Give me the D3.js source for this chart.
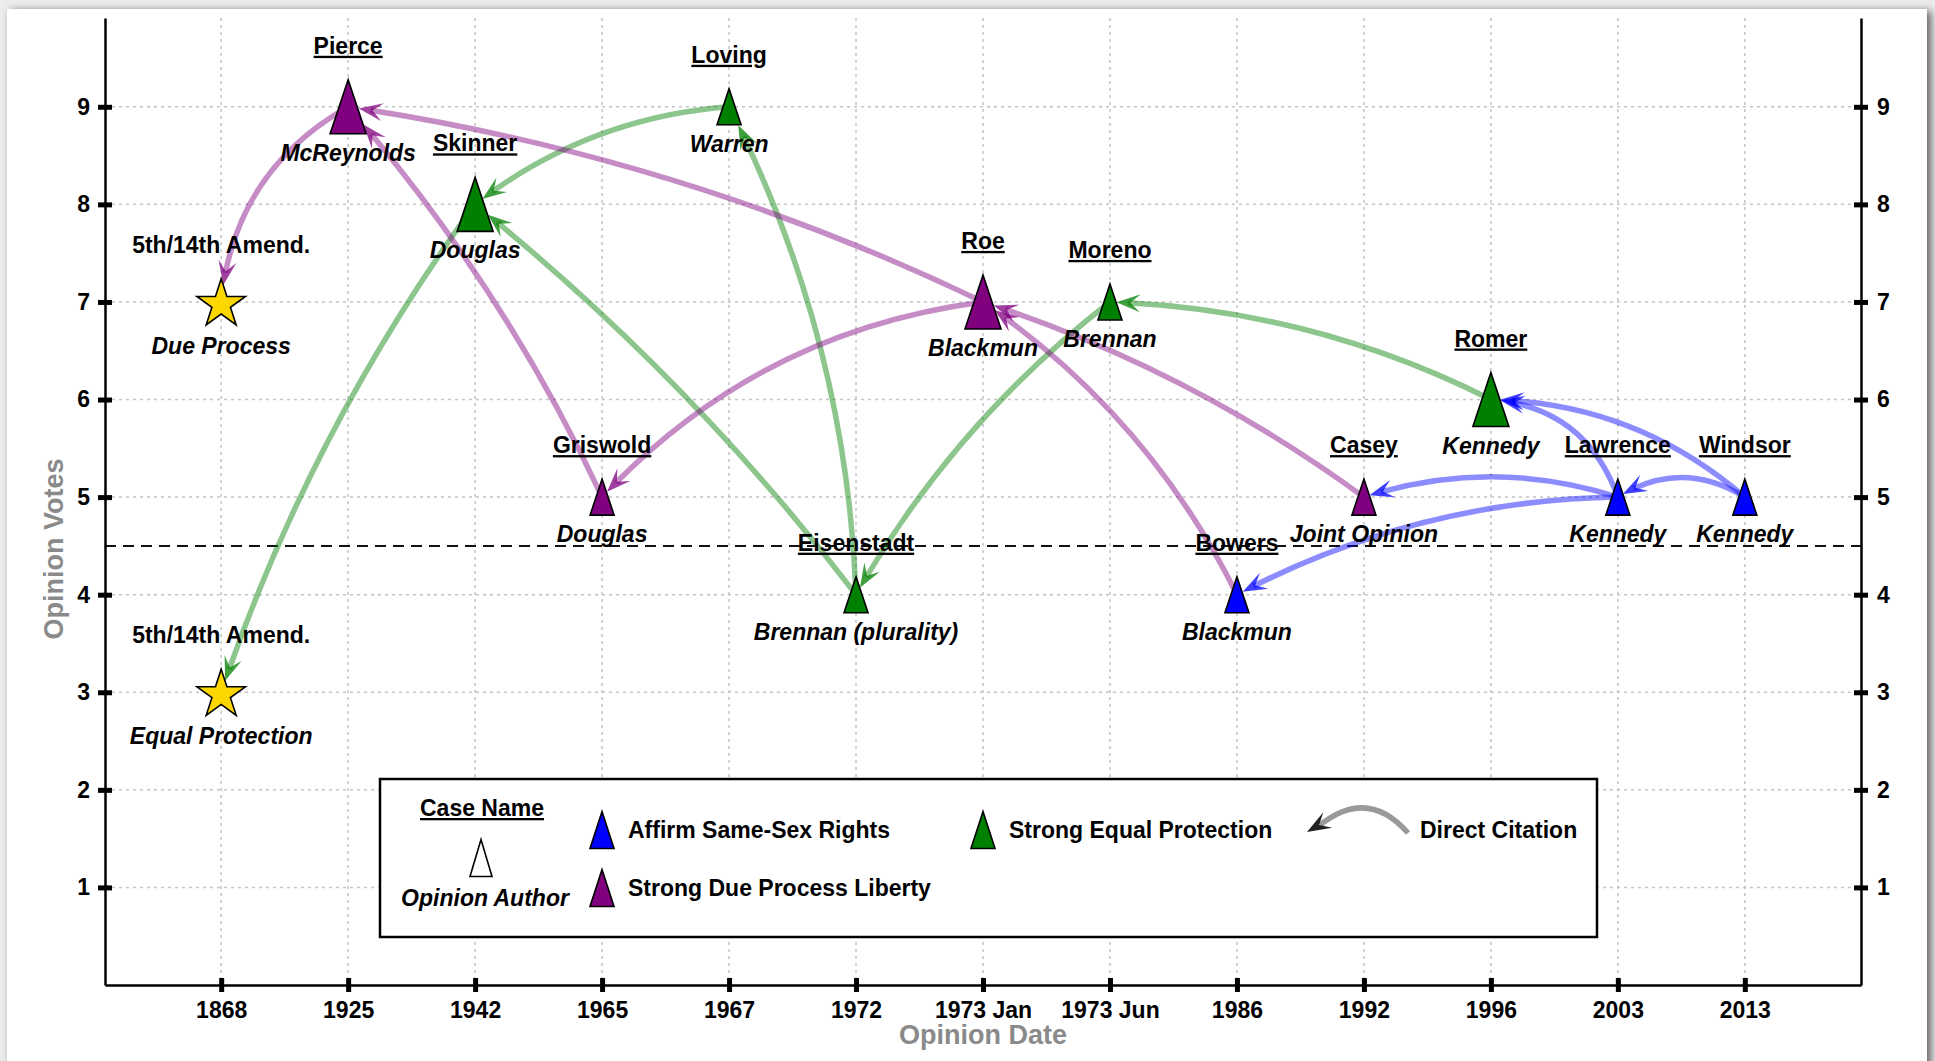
<!DOCTYPE html>
<html>
<head>
<meta charset="utf-8">
<script src="https://cdn.jsdelivr.net/npm/d3@7"></script>
<style>
body{margin:0;background:#ececec;overflow:hidden;}
text{font-family:"Liberation Sans",Arial,Helvetica,sans-serif;font-weight:bold;}
</style>
</head>
<body>
<script>
(function(){

//x axis categories (opinion dates) and y axis ticks
var dateTicks = ["1868", "1925", "1942", "1965", "1967", "1972", "1973 Jan", "1973 Jun", "1986", "1992", "1996", "2003", "2013"];
var voteTicks = [1, 2, 3, 4, 5, 6, 7, 8, 9];

//cases (nodes)
var caseKeys  = ["Due Process", "Equal Protection", "Pierce", "Skinner", "Griswold", "Loving", "Eisenstadt", "Roe", "Moreno", "Bowers", "Casey", "Romer", "Lawrence", "Windsor"];
var caseNames = ["5th/14th Amend.", "5th/14th Amend.", "Pierce", "Skinner", "Griswold", "Loving", "Eisenstadt", "Roe", "Moreno", "Bowers", "Casey", "Romer", "Lawrence", "Windsor"];
var caseAuthors = ["Due Process", "Equal Protection", "McReynolds", "Douglas", "Douglas", "Warren", "Brennan (plurality)", "Blackmun", "Brennan", "Blackmun", "Joint Opinion", "Kennedy", "Kennedy", "Kennedy"];
var caseDates = ["1868", "1868", "1925", "1942", "1965", "1967", "1972", "1973 Jan", "1973 Jun", "1986", "1992", "1996", "2003", "2013"];
var caseVotes = [7, 3, 9, 8, 5, 9, 4, 7, 7, 4, 5, 6, 5, 5];
var caseTypes = ["amend", "amend", "due", "equal", "due", "equal", "equal", "due", "equal", "same", "due", "equal", "same", "same"];

//citations (citing case, cited case) and their colour group
var citations = [
    ["Pierce", "Due Process"], ["Skinner", "Equal Protection"], ["Griswold", "Pierce"],
    ["Loving", "Skinner"], ["Eisenstadt", "Skinner"], ["Eisenstadt", "Loving"],
    ["Roe", "Pierce"], ["Roe", "Griswold"], ["Moreno", "Eisenstadt"],
    ["Bowers", "Roe"], ["Casey", "Roe"], ["Romer", "Moreno"],
    ["Lawrence", "Bowers"], ["Lawrence", "Casey"], ["Lawrence", "Romer"],
    ["Windsor", "Lawrence"], ["Windsor", "Romer"]
];
var citationTypes = ["due", "equal", "due", "equal", "equal", "equal", "due", "due", "equal", "due", "due", "equal", "same", "same", "same", "same", "same"];

//legend entries
var legendTypes = ["same", "due", "equal"];
var legendLabels = ["Affirm Same-Sex Rights", "Strong Due Process Liberty", "Strong Equal Protection"];


//style
var typeColor = {amend: "#ffd700", due: "#800080", equal: "#008000", same: "#0000ff"};
//curve bend of each citation arc (arc3 style rad)
var citationBend = [0.26, 0.077, 0.07, 0.15, 0.06, 0.11, 0.076, 0.18, 0.10, 0.13, 0.08, 0.11, 0.12, 0.16, 0.32, 0.31, 0.18];

var width = 1935,
    height = 1061;

var svg = d3.select("body")
    .append("svg")
    .attr("width", width)
    .attr("height", height);

var defs = svg.append("defs");
var filt = defs.append("filter").attr("id", "shadow")
    .attr("x", "-5%").attr("y", "-5%").attr("width", "110%").attr("height", "110%");
filt.append("feDropShadow").attr("dx", 4).attr("dy", 2).attr("stdDeviation", 4)
    .attr("flood-color", "#000").attr("flood-opacity", 0.6);

//white card
svg.append("rect")
    .attr("x", 7).attr("y", 9)
    .attr("width", 1920).attr("height", 1080)
    .attr("fill", "#fff")
    .attr("filter", "url(#shadow)");

//scales
var left = 105, right = 1861, top = 18, bottom = 985;
var x = d3.scaleLinear().domain([-0.915, 12.915]).range([left, right]);
var y = d3.scaleLinear().domain([0, 9.91]).range([bottom, top]);

//grid
var grid = svg.append("g").attr("class", "grid");
grid.selectAll(".vgrid")
    .data(d3.range(dateTicks.length))
    .enter().append("line")
    .attr("x1", function(d){ return x(d); })
    .attr("x2", function(d){ return x(d); })
    .attr("y1", top).attr("y2", bottom)
    .attr("stroke", "#c4c4c4").attr("stroke-width", 1.5)
    .attr("stroke-dasharray", "3,4");
grid.selectAll(".hgrid")
    .data(voteTicks)
    .enter().append("line")
    .attr("y1", function(d){ return y(d); })
    .attr("y2", function(d){ return y(d); })
    .attr("x1", left).attr("x2", right)
    .attr("stroke", "#c4c4c4").attr("stroke-width", 1.5)
    .attr("stroke-dasharray", "3,4");

//majority threshold
svg.append("line")
    .attr("x1", left).attr("x2", right)
    .attr("y1", y(4.5)).attr("y2", y(4.5))
    .attr("stroke", "#111").attr("stroke-width", 2)
    .attr("stroke-dasharray", "11,7");

//axes
function styleAxis(g, horizontal){
    g.attr("font-size", null).attr("font-family", null);
    g.select(".domain").attr("stroke", "#000").attr("stroke-width", 2.5);
    g.selectAll(".tick line")
        .attr("stroke", "#000").attr("stroke-width", 5)
        .attr(horizontal ? "y1" : "x1", -7)
        .attr(horizontal ? "y2" : "x2", 7);
    g.selectAll(".tick text").style("font-size", "23px").attr("fill", "#000");
}

var xAxis = d3.axisBottom(x)
    .tickValues(d3.range(dateTicks.length))
    .tickFormat(function(i){ return dateTicks[i]; })
    .tickSizeInner(0).tickSizeOuter(0).tickPadding(17);
svg.append("g").attr("transform", "translate(0," + bottom + ")")
    .call(xAxis).call(styleAxis, true);

var yAxisL = d3.axisLeft(y).tickValues(voteTicks)
    .tickSizeInner(0).tickSizeOuter(0).tickPadding(15);
svg.append("g").attr("transform", "translate(" + left + ",0)")
    .call(yAxisL).call(styleAxis, false);

var yAxisR = d3.axisRight(y).tickValues(voteTicks)
    .tickSizeInner(0).tickSizeOuter(0).tickPadding(16);
svg.append("g").attr("transform", "translate(" + right + ",0)")
    .call(yAxisR).call(styleAxis, false);

//axis titles
svg.append("text")
    .attr("x", (left + right) / 2).attr("y", 1044)
    .attr("text-anchor", "middle")
    .style("font-size", "27px").attr("fill", "#8a8a8a")
    .text("Opinion Date");
svg.append("text")
    .attr("transform", "translate(63,549) rotate(-90)")
    .attr("text-anchor", "middle")
    .style("font-size", "27px").attr("fill", "#8a8a8a")
    .text("Opinion Votes");

//node positions and shapes
var inDegree = caseKeys.map(function(k){
    return citations.filter(function(c){ return c[1] == k; }).length;
});
var nodes = caseKeys.map(function(k, i){
    var big = inDegree[i] >= 2;
    return {
        key: k, i: i,
        cx: x(dateTicks.indexOf(caseDates[i])),
        cy: y(caseVotes[i]),
        type: caseTypes[i],
        w: big ? 36 : 24,
        h: big ? 54 : 36
    };
});
var nodeByKey = {};
nodes.forEach(function(n){ nodeByKey[n.key] = n; });

var starR = 25.5;
function starPoints(){
    var pts = [];
    for (var k = 0; k < 10; k++){
        var a = -Math.PI / 2 + k * Math.PI / 5;
        var r = k % 2 == 0 ? starR : starR * 0.382;
        pts.push([r * Math.cos(a), r * Math.sin(a) + 2.4]);
    }
    return pts;
}
function triPoints(w, h){
    return [[0, -h / 2], [w / 2, h / 2], [-w / 2, h / 2]];
}
function localPoly(n){
    return n.type == "amend" ? starPoints() : triPoints(n.w, n.h);
}
function absPoly(n){
    return localPoly(n).map(function(p){ return [p[0] + n.cx, p[1] + n.cy]; });
}

//citation arcs
function bez(p0, c, p2, t){
    var u = 1 - t;
    return [u*u*p0[0] + 2*u*t*c[0] + t*t*p2[0], u*u*p0[1] + 2*u*t*c[1] + t*t*p2[1]];
}

var arrowHead = "M0,0L-24,-9L-14,0L-24,9Z";
var edgeG = svg.append("g").attr("class", "citations");

citations.forEach(function(c, j){
    var s = nodeByKey[c[0]], t = nodeByKey[c[1]];
    var p0 = [s.cx, s.cy], p2 = [t.cx, t.cy];
    var dx = p2[0] - p0[0], dy = p2[1] - p0[1];
    var f = citationBend[j];
    var ctrl = [(p0[0] + p2[0]) / 2 - f * dy, (p0[1] + p2[1]) / 2 + f * dx];
    var poly = absPoly(t);

    //find where the arc leaves the cited marker
    var tt = 1;
    while (tt > 0 && d3.polygonContains(poly, bez(p0, ctrl, p2, tt))) tt -= 0.002;
    var tip = bez(p0, ctrl, p2, tt);
    var tl = tt;
    while (tl > 0){
        var q = bez(p0, ctrl, p2, tl);
        if (Math.hypot(q[0] - tip[0], q[1] - tip[1]) >= 12) break;
        tl -= 0.002;
    }
    var end = bez(p0, ctrl, p2, tl);
    var c1 = [p0[0] + tl * (ctrl[0] - p0[0]), p0[1] + tl * (ctrl[1] - p0[1])];
    var col = typeColor[citationTypes[j]];

    edgeG.append("path")
        .attr("d", "M" + p0 + "Q" + c1 + " " + end)
        .attr("fill", "none")
        .attr("stroke", col).attr("stroke-opacity", 0.45)
        .attr("stroke-width", 5.5);

    var ang = Math.atan2(tip[1] - end[1], tip[0] - end[0]) * 180 / Math.PI;
    edgeG.append("path")
        .attr("d", arrowHead)
        .attr("transform", "translate(" + tip + ") rotate(" + ang + ")")
        .attr("fill", col).attr("fill-opacity", 0.75);
});

//case markers
svg.append("g").selectAll("path")
    .data(nodes)
    .enter().append("path")
    .attr("d", function(n){ return "M" + localPoly(n).join("L") + "Z"; })
    .attr("transform", function(n){ return "translate(" + n.cx + "," + n.cy + ")"; })
    .attr("fill", function(n){ return typeColor[n.type]; })
    .attr("stroke", "#000").attr("stroke-width", 1.6)
    .attr("stroke-linejoin", "miter");

//case name and author labels
var labels = svg.append("g").attr("class", "labels");
nodes.forEach(function(n){
    var star = n.type == "amend";
    labels.append("text")
        .attr("x", n.cx)
        .attr("y", star ? n.cy - 49 : n.cy - n.h / 2 - 26)
        .attr("text-anchor", "middle")
        .style("font-size", "23px")
        .style("text-decoration", star ? "none" : "underline")
        .text(caseNames[n.i]);
    labels.append("text")
        .attr("x", n.cx)
        .attr("y", star ? n.cy + 52 : n.cy + n.h / 2 + 27)
        .attr("text-anchor", "middle")
        .style("font-size", "23px")
        .style("font-style", "italic")
        .text(caseAuthors[n.i]);
});

//legend
var legend = svg.append("g").attr("class", "legend");
legend.append("rect")
    .attr("x", 380).attr("y", 779)
    .attr("width", 1217).attr("height", 158)
    .attr("fill", "#fff").attr("stroke", "#000").attr("stroke-width", 2.5);

legend.append("text")
    .attr("x", 482).attr("y", 816)
    .attr("text-anchor", "middle")
    .style("font-size", "23px").style("text-decoration", "underline")
    .text("Case Name");
legend.append("path")
    .attr("d", "M" + triPoints(22, 37).join("L") + "Z")
    .attr("transform", "translate(481,858)")
    .attr("fill", "#fff").attr("stroke", "#000").attr("stroke-width", 1.6);
legend.append("text")
    .attr("x", 485).attr("y", 906)
    .attr("text-anchor", "middle")
    .style("font-size", "23px").style("font-style", "italic")
    .text("Opinion Author");

var legendPos = [[602, 830], [602, 888], [983, 830]];
legendTypes.forEach(function(tp, k){
    legend.append("path")
        .attr("d", "M" + triPoints(24, 37).join("L") + "Z")
        .attr("transform", "translate(" + legendPos[k] + ")")
        .attr("fill", typeColor[tp]).attr("stroke", "#000").attr("stroke-width", 1.6);
    legend.append("text")
        .attr("x", legendPos[k][0] + 26).attr("y", legendPos[k][1] + 8)
        .style("font-size", "23px")
        .text(legendLabels[k]);
});

legend.append("path")
    .attr("d", "M1408,833Q1368,787 1320,825")
    .attr("fill", "none").attr("stroke", "#999").attr("stroke-width", 5.5);
legend.append("path")
    .attr("d", arrowHead)
    .attr("transform", "translate(1307,832) rotate(150)")
    .attr("fill", "#222");
legend.append("text")
    .attr("x", 1420).attr("y", 838)
    .style("font-size", "23px")
    .text("Direct Citation");

})();
</script>
</body>
</html>
